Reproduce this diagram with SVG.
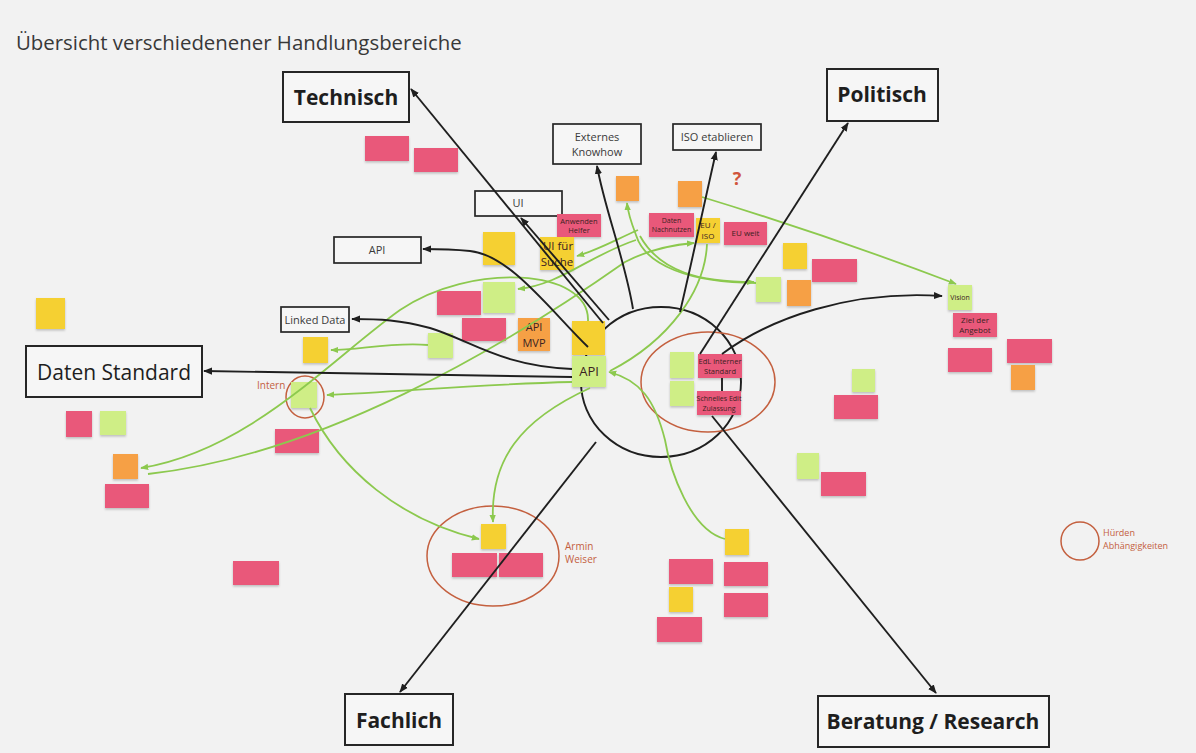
<svg xmlns="http://www.w3.org/2000/svg" width="1196" height="753" viewBox="0 0 1196 753">
  <defs>
    <marker id="ab" viewBox="0 0 10 10" refX="9" refY="5" markerWidth="9" markerHeight="9" markerUnits="userSpaceOnUse" orient="auto">
      <path d="M0,1 L10,5 L0,9 z" fill="#1f1f1f"/>
    </marker>
    <marker id="ag" viewBox="0 0 10 10" refX="9" refY="5" markerWidth="8" markerHeight="8" markerUnits="userSpaceOnUse" orient="auto">
      <path d="M0,1 L10,5 L0,9 z" fill="#8cc94e"/>
    </marker>
    <filter id="sh" x="-20%" y="-20%" width="140%" height="150%">
      <feDropShadow dx="0" dy="1.5" stdDeviation="1" flood-color="#000" flood-opacity="0.22"/>
    </filter>
  </defs>
  <style>
    text{font-family:"Open Sans","Liberation Sans",sans-serif}
    .title{font-size:20.4px;fill:#383838}
    .hb rect{fill:#f6f6f6;stroke:#262626;stroke-width:2}
    .hb text{font-size:21px;font-weight:700;fill:#1e1e1e;text-anchor:middle}
    .db text{font-weight:400}
    .sb rect{fill:#f6f6f6;stroke:#262626;stroke-width:1.7}
    .sb text{font-size:11px;fill:#3a3a3a;text-anchor:middle}
    .st rect{filter:url(#sh)}
    .st text{fill:#3a2222;text-anchor:middle;font-size:8px}
    .pink rect{fill:#e9587a}
    .yel rect{fill:#f5d032}
    .ora rect{fill:#f6a044}
    .grn rect{fill:#cfee86}
    .blk{fill:none;stroke:#1f1f1f;stroke-width:1.9}
    .gl{fill:none;stroke:#8cc94e;stroke-width:1.8}
    .hurdle{fill:none;stroke:#c4603f;stroke-width:1.5}
    .note{font-size:10px;fill:#c4603f}
  </style>

  <rect width="1196" height="753" fill="#f2f2f2"/>
  <text class="title" x="16" y="50">Übersicht verschiedenener Handlungsbereiche</text>

  <!-- central hub and hurdle rings -->
  <g id="hub">
    <ellipse cx="661" cy="382" rx="80" ry="75" fill="none" stroke="#1f1f1f" stroke-width="1.9"/>
  </g>
  <g id="hurdles">
    <ellipse class="hurdle" cx="708" cy="382" rx="67" ry="50"/>
    <ellipse class="hurdle" cx="493" cy="556" rx="66" ry="50"/>
    <ellipse class="hurdle" cx="305" cy="397" rx="19" ry="21"/>
    <text class="note" x="257" y="389">Intern</text>
    <text class="note" x="565" y="550">Armin</text>
    <text class="note" x="565" y="563">Weiser</text>
  </g>
  <g id="legend">
    <circle class="hurdle" cx="1080" cy="541" r="19"/>
    <text class="note" x="1103" y="536" style="font-size:9px">Hürden</text>
    <text class="note" x="1103" y="549" style="font-size:9px">Abhängigkeiten</text>
  </g>
  <text x="737" y="185" style="font-size:18px;font-weight:700;fill:#d0553c;text-anchor:middle">?</text>

  <!-- main areas -->
  <g id="n-technisch" class="hb"><rect x="283" y="72" width="126" height="50"/><text x="346" y="105">Technisch</text></g>
  <g id="n-politisch" class="hb"><rect x="827" y="69" width="111" height="52"/><text x="882" y="102">Politisch</text></g>
  <g id="n-fachlich" class="hb"><rect x="345" y="694" width="108" height="51"/><text x="399" y="728">Fachlich</text></g>
  <g id="n-beratung" class="hb"><rect x="818" y="696" width="231" height="51"/><text x="933" y="729">Beratung / Research</text></g>
  <g id="n-datenstandard" class="hb db"><rect x="26" y="346" width="176" height="51"/><text x="114" y="380">Daten Standard</text></g>

  <!-- sub topics -->
  <g id="n-externes" class="sb"><rect x="553" y="124" width="88" height="40"/><text x="597" y="141">Externes</text><text x="597" y="156">Knowhow</text></g>
  <g id="n-iso" class="sb"><rect x="673" y="124" width="88" height="26"/><text x="717" y="141">ISO etablieren</text></g>
  <g id="n-ui" class="sb"><rect x="475" y="191" width="87" height="25"/><text x="518" y="207">UI</text></g>
  <g id="n-api-box" class="sb"><rect x="334" y="237" width="87" height="26"/><text x="377" y="254">API</text></g>
  <g id="n-linked" class="sb"><rect x="281" y="307" width="68" height="25"/><text x="315" y="324">Linked Data</text></g>

  <!-- sticky notes -->
  <g id="stickies">
    <g id="n-p1" class="st pink"><rect x="365" y="136" width="44" height="25"/></g>
    <g id="n-p2" class="st pink"><rect x="414" y="148" width="44" height="24"/></g>
    <g id="n-p3" class="st pink"><rect x="557" y="214" width="44" height="23"/><text x="579" y="224" style="font-size:7.5px">Anwenden</text><text x="579" y="233" style="font-size:7.5px">Helfer</text></g>
    <g id="n-p4" class="st pink"><rect x="649" y="213" width="45" height="24"/><text x="671.5" y="223" style="font-size:7px">Daten</text><text x="671.5" y="232" style="font-size:7px">Nachnutzen</text></g>
    <g id="n-p5" class="st pink"><rect x="724" y="222" width="43" height="23"/><text x="745.5" y="236">EU weit</text></g>
    <g id="n-p6" class="st pink"><rect x="812" y="259" width="45" height="23"/></g>
    <g id="n-p7" class="st pink"><rect x="953" y="313" width="44" height="24"/><text x="975" y="323">Ziel der</text><text x="975" y="333">Angebot</text></g>
    <g id="n-p8" class="st pink"><rect x="948" y="348" width="44" height="24"/></g>
    <g id="n-p9" class="st pink"><rect x="1007" y="339" width="45" height="24"/></g>
    <g id="n-p10" class="st pink"><rect x="437" y="291" width="44" height="24"/></g>
    <g id="n-p11" class="st pink"><rect x="462" y="318" width="44" height="23"/></g>
    <g id="n-p12" class="st pink"><rect x="698" y="354" width="44" height="24"/><text x="720" y="364" style="font-size:7.5px">EdL interner</text><text x="720" y="374" style="font-size:7.5px">Standard</text></g>
    <g id="n-p13" class="st pink"><rect x="697" y="391" width="44" height="24"/><text x="719" y="401" style="font-size:7px">Schnelles Edit</text><text x="719" y="411" style="font-size:7px">Zulassung</text></g>
    <g id="n-p14" class="st pink"><rect x="834" y="395" width="44" height="24"/></g>
    <g id="n-p15" class="st pink"><rect x="821" y="472" width="45" height="24"/></g>
    <g id="n-p16" class="st pink"><rect x="66" y="411" width="26" height="26"/></g>
    <g id="n-p17" class="st pink"><rect x="275" y="429" width="44" height="24"/></g>
    <g id="n-p18" class="st pink"><rect x="105" y="484" width="44" height="24"/></g>
    <g id="n-p19" class="st pink"><rect x="452" y="553" width="45" height="24"/></g>
    <g id="n-p20" class="st pink"><rect x="499" y="553" width="44" height="24"/></g>
    <g id="n-p21" class="st pink"><rect x="669" y="559" width="44" height="25"/></g>
    <g id="n-p22" class="st pink"><rect x="724" y="562" width="44" height="24"/></g>
    <g id="n-p23" class="st pink"><rect x="724" y="593" width="44" height="24"/></g>
    <g id="n-p24" class="st pink"><rect x="657" y="617" width="45" height="25"/></g>
    <g id="n-p25" class="st pink"><rect x="233" y="561" width="46" height="24"/></g>

    <g id="n-y1" class="st yel"><rect x="483" y="232" width="32" height="33"/></g>
    <g id="n-y2" class="st yel"><rect x="540" y="237" width="34" height="33"/><text x="558" y="250" style="font-size:11.5px">UI für</text><text x="557" y="266" style="font-size:11.5px">Suche</text></g>
    <g id="n-y3" class="st yel"><rect x="696" y="218" width="24" height="25"/><text x="708" y="228" style="font-size:8px">EU /</text><text x="708" y="239" style="font-size:8px">ISO</text></g>
    <g id="n-y4" class="st yel"><rect x="783" y="243" width="24" height="26"/></g>
    <g id="n-y5" class="st yel"><rect x="36" y="298" width="29" height="31"/></g>
    <g id="n-y6" class="st yel"><rect x="303" y="337" width="25" height="26"/></g>
    <g id="n-y7" class="st yel"><rect x="572" y="321" width="33" height="34"/></g>
    <g id="n-y8" class="st yel"><rect x="481" y="524" width="25" height="25"/></g>
    <g id="n-y9" class="st yel"><rect x="725" y="529" width="24" height="26"/></g>
    <g id="n-y10" class="st yel"><rect x="669" y="587" width="24" height="25"/></g>

    <g id="n-o1" class="st ora"><rect x="616" y="176" width="23" height="25"/></g>
    <g id="n-o2" class="st ora"><rect x="678" y="181" width="24" height="26"/></g>
    <g id="n-o3" class="st ora"><rect x="787" y="280" width="24" height="26"/></g>
    <g id="n-o4" class="st ora"><rect x="1011" y="365" width="24" height="25"/></g>
    <g id="n-o5" class="st ora"><rect x="518" y="318" width="32" height="33"/><text x="534" y="331" style="font-size:11px">API</text><text x="534" y="347" style="font-size:11px">MVP</text></g>
    <g id="n-o6" class="st ora"><rect x="113" y="454" width="25" height="25"/></g>

    <g id="n-g1" class="st grn"><rect x="756" y="277" width="25" height="25"/></g>
    <g id="n-g2" class="st grn"><rect x="948" y="285" width="24" height="25"/><text x="960" y="300" style="font-size:7px">Vision</text></g>
    <g id="n-g3" class="st grn"><rect x="483" y="282" width="32" height="31"/></g>
    <g id="n-g4" class="st grn"><rect x="428" y="333" width="25" height="25"/></g>
    <g id="n-g5" class="st grn"><rect x="572" y="356" width="34" height="31"/><text x="589" y="376" style="font-size:13px">API</text></g>
    <g id="n-g6" class="st grn"><rect x="291" y="382" width="26" height="26"/></g>
    <g id="n-g7" class="st grn"><rect x="100" y="411" width="26" height="24"/></g>
    <g id="n-g8" class="st grn"><rect x="670" y="352" width="24" height="26"/></g>
    <g id="n-g9" class="st grn"><rect x="670" y="381" width="24" height="25"/></g>
    <g id="n-g10" class="st grn"><rect x="852" y="369" width="23" height="23"/></g>
    <g id="n-g11" class="st grn"><rect x="797" y="453" width="22" height="26"/></g>
  </g>

  <!-- connectors -->
  <g id="connectors">
    <!-- dependencies between notes -->
    <g id="green-links">
      <path class="gl" d="M702 197 Q830 236 956 284" marker-end="url(#ag)"/>
      <path class="gl" d="M638 230 C615 240 598 250 577 256" marker-end="url(#ag)"/>
      <path class="gl" d="M148 474 C320 455 500 350 625 262 C648 250 670 245 694 243" marker-end="url(#ag)"/>
      <path class="gl" d="M756 283 C690 283 645 265 636 235 C631 222 628 214 627 203" marker-end="url(#ag)"/>
      <path class="gl" d="M640 236 C660 272 700 282 754 282" marker-end="url(#ag)"/>
      <path class="gl" d="M588 321 C590 268 470 262 400 310 C330 360 250 450 141 468" marker-end="url(#ag)"/>
      <path class="gl" d="M636 240 C590 255 560 285 518 289" marker-end="url(#ag)"/>
      <path class="gl" d="M428 345 C390 342 360 350 331 350" marker-end="url(#ag)"/>
      <path class="gl" d="M572 382 C480 384 400 392 327 395" marker-end="url(#ag)"/>
      <path class="gl" d="M310 408 C340 470 400 520 479 539" marker-end="url(#ag)"/>
      <path class="gl" d="M590 388 C520 420 490 460 493 522" marker-end="url(#ag)"/>
      <path class="gl" d="M725 539 C690 530 670 470 665 440 C655 400 640 380 609 372" marker-end="url(#ag)"/>
      <path class="gl" d="M707 244 C705 290 670 340 610 371"/>
    </g>
    <!-- hub to areas -->
    <g id="black-links">
      <path class="blk" d="M603 323 L411 89" marker-end="url(#ab)"/>
      <path class="blk" d="M609 320 L521 218" marker-end="url(#ab)"/>
      <path class="blk" d="M588 347 C550 310 510 255 470 251 C450 249 440 249 423 249" marker-end="url(#ab)"/>
      <path class="blk" d="M572 369 C500 366 470 340 430 328 C400 320 380 319 352 319" marker-end="url(#ab)"/>
      <path class="blk" d="M572 377 L204 371" marker-end="url(#ab)"/>
      <path class="blk" d="M633 309 C625 260 605 210 597 166" marker-end="url(#ab)"/>
      <path class="blk" d="M680 312 C690 270 705 200 716 152" marker-end="url(#ab)"/>
      <path class="blk" d="M700 354 L848 123" marker-end="url(#ab)"/>
      <path class="blk" d="M722 354 C770 318 850 290 942 296" marker-end="url(#ab)"/>
      <path class="blk" d="M722 378 L722 391"/>
      <path class="blk" d="M596 442 L400 692" marker-end="url(#ab)"/>
      <path class="blk" d="M712 416 L936 693" marker-end="url(#ab)"/>
    </g>
  </g>
</svg>
